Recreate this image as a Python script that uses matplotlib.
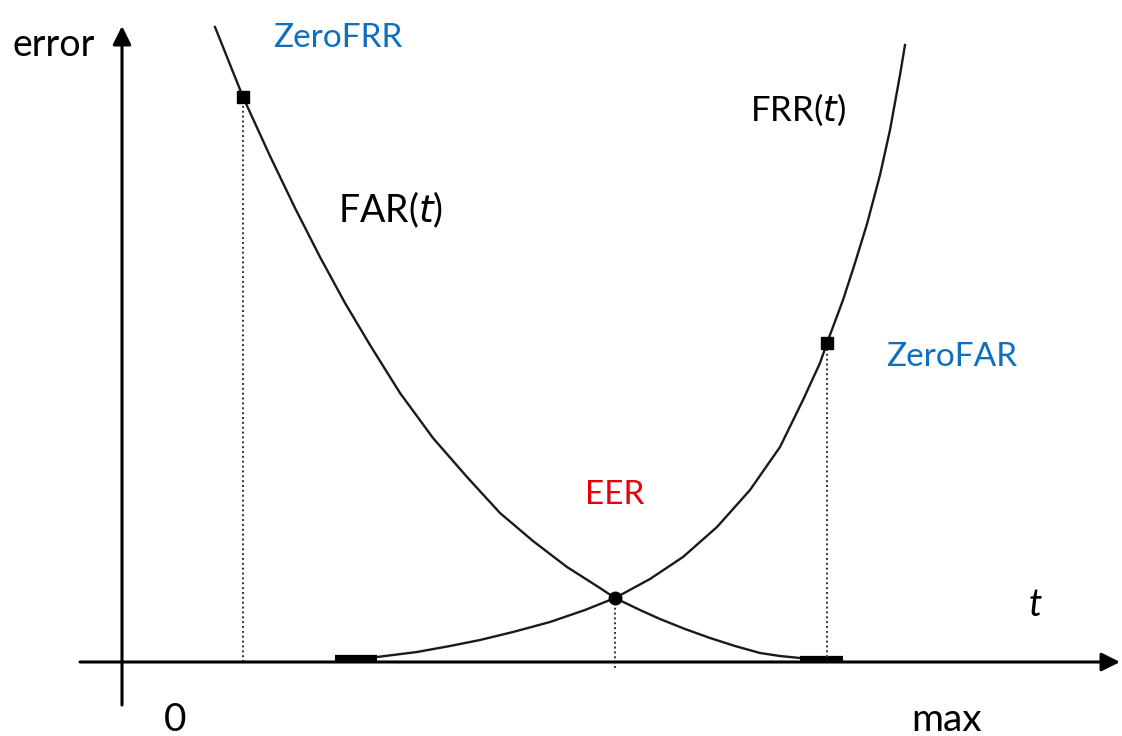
import matplotlib
matplotlib.use("Agg")
import matplotlib.pyplot as plt

# Threshold t (horizontal) and error rate (vertical), arbitrary units
far_t = [93, 121, 148, 173, 198, 223, 248, 278, 311, 345, 378, 411, 445, 478, 493,
         518, 538, 563, 588, 613, 638, 658, 678]
far_e = [635, 565, 506, 454, 405, 359, 317, 269, 224, 185, 149, 121, 95, 74, 64,
         52, 43, 33, 24, 16, 9, 6, 4]

frr_t = [255, 295, 328, 358, 391, 428, 463, 493, 528, 561, 595, 628, 658, 681,
         698, 705, 721, 733, 745, 758, 768, 778, 783]
frr_e = [5, 10, 16, 22, 30, 40, 52, 64, 83, 105, 135, 172, 215, 262,
         299, 319, 362, 399, 438, 487, 532, 587, 617]

# Flat zero-error stretches at the ends of each curve
frr_zero_t = [213, 255]
frr_zero_e = [4, 4]
far_zero_t = [678, 721]
far_zero_e = [3, 3]

# Operating points
zero_frr = (121, 565)
eer = (493, 64)
zero_far = (705, 319)

FONT = ["Lato", "DejaVu Sans"]
BLUE = "#0F6FBF"
RED = "#E8000B"

fig = plt.figure(figsize=(11.22, 7.36), dpi=100)
ax = fig.add_axes([0, 0, 1, 1])
ax.set_xlim(-122, 1000)
ax.set_ylim(-74, 662)
ax.axis("off")

# Coordinate axes with arrow heads
ax.annotate("", xy=(998, 0), xytext=(-42, 0),
            arrowprops=dict(arrowstyle="-|>", lw=2.2, color="black",
                            mutation_scale=28, shrinkA=0, shrinkB=0))
ax.annotate("", xy=(0, 636), xytext=(0, -43),
            arrowprops=dict(arrowstyle="-|>", lw=2.2, color="black",
                            mutation_scale=28, shrinkA=0, shrinkB=0))

# Error curves
ax.plot(far_t, far_e, color="#1a1a1a", lw=1.7, solid_joinstyle="round")
ax.plot(frr_t, frr_e, color="#1a1a1a", lw=1.7, solid_joinstyle="round")
ax.plot(frr_zero_t, frr_zero_e, color="black", lw=4.5, solid_capstyle="butt")
ax.plot(far_zero_t, far_zero_e, color="black", lw=4.5, solid_capstyle="butt")

# Dotted drop lines to the threshold axis
dots = dict(color="#333333", lw=1.4, ls=(0, (1, 1.5)))
ax.plot([zero_frr[0], zero_frr[0]], [0, zero_frr[1]], **dots)
ax.plot([eer[0], eer[0]], [-6, eer[1]], **dots)
ax.plot([zero_far[0], zero_far[0]], [0, zero_far[1]], **dots)

# Markers
ax.plot(*zero_frr, marker="s", ms=8, color="black")
ax.plot(*zero_far, marker="s", ms=8, color="black")
ax.plot(*eer, marker="o", ms=9, color="black")

# Labels
ax.text(-110, 617, "error", fontsize=27, family=FONT, va="center", ha="left")
ax.text(151, 624, "ZeroFRR", fontsize=24, family=FONT, color=BLUE, va="center", ha="left")
ax.text(216, 452, "FAR($\\mathit{t}$)", fontsize=27, family=FONT, va="center", ha="left")
ax.text(628, 552, "FRR($\\mathit{t}$)", fontsize=25, family=FONT, va="center", ha="left")
ax.text(764, 305, "ZeroFAR", fontsize=24, family=FONT, color=BLUE, va="center", ha="left")
ax.text(493, 167, "EER", fontsize=24, family=FONT, color=RED, va="center", ha="center")
ax.text(913, 57, "t", fontsize=27, family=FONT, style="italic", va="center", ha="center")
ax.text(53, -58, "0", fontsize=28, family=FONT, va="center", ha="center")
ax.text(825, -58, "max", fontsize=28, family=FONT, va="center", ha="center")

fig.savefig("out.png", dpi=100)
